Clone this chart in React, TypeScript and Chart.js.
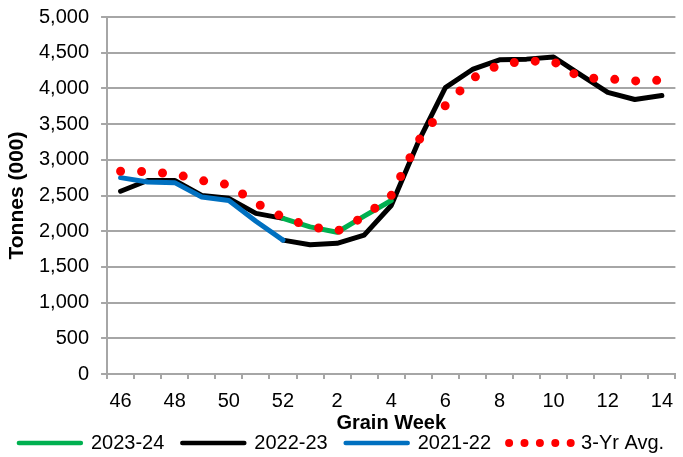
import React, { useEffect, useRef } from 'react';
import { Chart, registerables } from 'chart.js';

Chart.register(...registerables);

// Grain weeks (categories)
const weeks = ['46', '47', '48', '49', '50', '51', '52', '1', '2', '3', '4', '5', '6', '7', '8', '9', '10', '11', '12', '13', '14'];

// Series values (tonnes, 000)
const s2023_24 = [null, null, null, null, null, null, 2180, 2060, 1985, 2210, 2430, null, null, null, null, null, null, null, null, null, null];
const s2022_23End = [2560, 2710, 2710, 2500, 2460, 2250, 2180, null, null, null, null, null, null, null, null, null, null, null, null, null, null];
const s2021_22 = [2750, 2690, 2680, 2480, 2430, 2140, 1875, null, null, null, null, null, null, null, null, null, null, null, null, null, null];
const s2022_23Start = [null, null, null, null, null, null, 1875, 1810, 1830, 1945, 2360, 3250, 4010, 4265, 4400, 4410, 4440, 4190, 3945, 3845, 3900];
const avg3Yr = [2840, 2835, 2800, 2710, 2650, 2395, 2195, 2065, 2000, 2205, 2500, 3265, 3760, 4140, 4335, 4385, 4375, 4150, 4135, 4105, 4115];

const yMin = 0;
const yMax = 5000;
const yStep = 500;

const GREEN = '#00b050';
const BLACK = '#000000';
const BLUE = '#0070c0';
const RED = '#ff0000';
const GRID = '#a6a6a6';
const FONT = '"Liberation Sans", Arial, sans-serif';

export default function App() {
  const ref = useRef<HTMLCanvasElement | null>(null);

  useEffect(() => {
    if (!ref.current) return;
    Chart.defaults.font.family = FONT;
    Chart.defaults.color = '#000';

    const lineCommon = {
      pointRadius: 0,
      pointHoverRadius: 0,
      borderCapStyle: 'round' as const,
      borderJoinStyle: 'round' as const,
      tension: 0,
      fill: false,
      spanGaps: false,
    };

    const chart = new Chart(ref.current, {
      type: 'line',
      data: {
        labels: weeks,
        datasets: [
          { ...lineCommon, label: '2023-24', data: s2023_24, borderColor: GREEN, backgroundColor: GREEN, borderWidth: 5, order: 1 },
          { ...lineCommon, label: '2022-23', data: s2022_23End, borderColor: BLACK, backgroundColor: BLACK, borderWidth: 5, order: 3 },
          { ...lineCommon, label: '2021-22', data: s2021_22, borderColor: BLUE, backgroundColor: BLUE, borderWidth: 5, order: 2 },
          { ...lineCommon, label: '2022-23', data: s2022_23Start, borderColor: BLACK, backgroundColor: BLACK, borderWidth: 5, order: 3 },
          { ...lineCommon, label: '3-Yr Avg.', data: avg3Yr, borderColor: RED, backgroundColor: RED, borderWidth: 9, borderDash: [0, 21], order: 0 },
        ],
      },
      options: {
        animation: false,
        responsive: false,
        devicePixelRatio: 1,
        layout: { padding: { top: 17, left: 0, right: 0, bottom: -6 } },
        plugins: {
          tooltip: { enabled: false },
          legend: {
            position: 'bottom',
            labels: {
              usePointStyle: true,
              pointStyle: 'line',
              pointStyleWidth: 62,
              padding: 18,
              color: '#000',
              font: { size: 20, family: FONT },
              generateLabels: (c: any) =>
                [0, 1, 2, 4].map((i) => {
                  const ds: any = c.data.datasets[i];
                  const dotted = i === 4;
                  return {
                    text: ds.label,
                    fillStyle: ds.borderColor,
                    strokeStyle: ds.borderColor,
                    fontColor: '#000',
                    lineWidth: dotted ? 8 : 4.5,
                    lineDash: dotted ? [0, 15.4] : [],
                    lineCap: 'round',
                    lineJoin: 'round',
                    pointStyle: 'line',
                    hidden: false,
                    datasetIndex: i,
                  };
                }),
            },
          },
        },
        scales: {
          x: {
            type: 'category',
            offset: true,
            grid: { offset: true, drawOnChartArea: false, drawTicks: true, tickLength: 5, color: GRID, lineWidth: 2 },
            border: { color: GRID, width: 2 },
            ticks: {
              autoSkip: false,
              maxRotation: 0,
              padding: 10,
              color: '#000',
              font: { size: 20, lineHeight: 1.2 },
              callback: (_v: any, i: number) => (i % 2 === 0 ? weeks[i] : ''),
            },
            title: {
              display: true,
              text: 'Grain Week',
              color: '#000',
              font: { size: 20, weight: 'bold', lineHeight: 1.2 },
              padding: { top: -12, bottom: -20 },
            },
          },
          y: {
            min: yMin,
            max: yMax,
            grid: { color: GRID, lineWidth: 2, tickLength: 6 },
            border: { color: GRID, width: 2 },
            ticks: {
              stepSize: yStep,
              padding: 12,
              color: '#000',
              font: { size: 20, lineHeight: 0.4 },
              callback: (v: any) => Number(v).toLocaleString('en-US'),
            },
            title: {
              display: true,
              text: 'Tonnes (000)',
              color: '#000',
              font: { size: 21, weight: 'bold', lineHeight: 1.2 },
              padding: { top: 4.9, bottom: -3.1 },
            },
          },
        },
      },
    } as any);

    return () => chart.destroy();
  }, []);

  return (
    <div style={{ position: 'absolute', left: 0, top: 0, width: 683, height: 457, background: '#fff' }}>
      <canvas ref={ref} width={683} height={457} style={{ width: 683, height: 457, display: 'block' }} />
    </div>
  );
}
